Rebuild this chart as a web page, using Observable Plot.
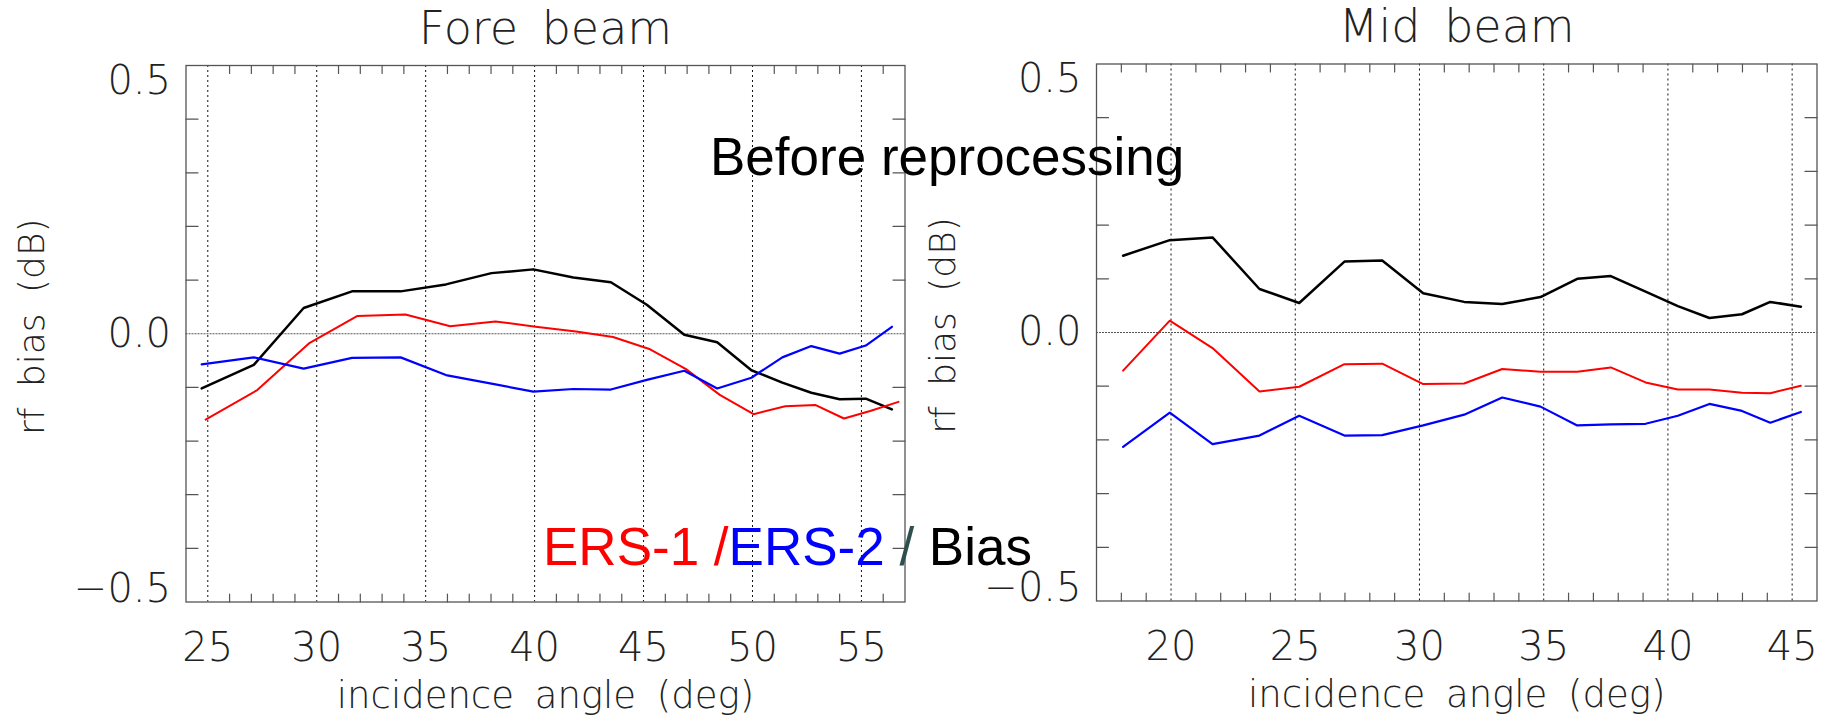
<!DOCTYPE html>
<html>
<head>
<meta charset="utf-8">
<script src="https://cdn.jsdelivr.net/npm/d3@7"></script>
<script src="https://cdn.jsdelivr.net/npm/@observablehq/plot@0.6"></script>
<style>
  html, body { margin: 0; padding: 0; background: #fff; }
  #chart { position: relative; width: 1829px; height: 721px; overflow: hidden; background: #fff; }
  #chart > svg { position: absolute; top: 0; }
</style>
</head>
<body>
<div id="chart"></div>
<script>
// ---- Fore beam: rf bias per incidence-angle node ----
const foreAngle     = [24.72, 27.11, 29.40, 31.62, 33.85, 35.93, 38.02, 39.94, 41.78, 43.50, 45.15, 46.87, 48.38, 49.95, 51.37, 52.70, 54.00, 55.20, 56.40];
const foreAngleErs1 = [24.90, 27.27, 29.64, 31.85, 34.07, 36.13, 38.20, 40.05, 41.90, 43.60, 45.30, 46.95, 48.50, 50.05, 51.50, 52.90, 54.20, 55.40, 56.70];
const foreErs1 = [-0.160, -0.105, -0.018, 0.033, 0.036, 0.014, 0.023, 0.013, 0.004, -0.006, -0.029, -0.066, -0.114, -0.150, -0.135, -0.133, -0.158, -0.144, -0.127];
const foreErs2 = [-0.057, -0.044, -0.065, -0.045, -0.044, -0.077, -0.093, -0.108, -0.103, -0.104, -0.086, -0.069, -0.102, -0.082, -0.044, -0.023, -0.037, -0.022, 0.013];
const foreBias = [-0.102, -0.058, 0.048, 0.079, 0.079, 0.092, 0.113, 0.120, 0.105, 0.096, 0.054, -0.002, -0.016, -0.068, -0.091, -0.110, -0.122, -0.121, -0.141];

// ---- Mid beam ----
const midAngle = [18.07, 19.95, 21.67, 23.56, 25.16, 26.98, 28.50, 30.15, 31.80, 33.33, 34.87, 36.35, 37.70, 39.10, 40.40, 41.67, 42.98, 44.12, 45.35];
const midErs1 = [-0.071, 0.022, -0.029, -0.110, -0.101, -0.059, -0.058, -0.096, -0.095, -0.068, -0.073, -0.073, -0.065, -0.093, -0.106, -0.106, -0.112, -0.113, -0.099];
const midErs2 = [-0.213, -0.149, -0.208, -0.192, -0.155, -0.192, -0.191, -0.173, -0.153, -0.121, -0.138, -0.173, -0.171, -0.170, -0.155, -0.133, -0.146, -0.168, -0.148];
const midBias = [0.143, 0.172, 0.177, 0.081, 0.055, 0.132, 0.134, 0.073, 0.057, 0.053, 0.066, 0.100, 0.105, 0.076, 0.049, 0.027, 0.034, 0.057, 0.048];

// ---- axes and labels ----
const foreTicks = [25, 30, 35, 40, 45, 50, 55];
const midTicks = [20, 25, 30, 35, 40, 45];
const yTicks = [0.5, 0, -0.5];
const yMinorTicks = [0.4, 0.3, 0.2, 0.1, -0.1, -0.2, -0.3, -0.4];
const panelTitles = ["Fore beam", "Mid beam"];
const xLabel = "incidence angle (deg)";
const yLabel = "rf bias (dB)";
const headline = "Before reprocessing";
const legendParts = ["ERS-1 /", "ERS-2", " / ", "Bias"];
const legendColors = ["#ff0000", "#0000ff", "#2f4f4f", "#000000"];

const thin = {fontFamily: "'DejaVu Sans', Lato, sans-serif", fontWeight: 200};
const frameColor = "#555";
const fmt = d3.format(".1f");

// a plain tick stroke for Plot.vector
const tickShape = {draw(context, l) { context.moveTo(0, 0); context.lineTo(0, -l); }};

function panel({title, xDomain, ticks, ers1, ers2, bias, width, margins}) {
  const minorX = d3.range(Math.floor(xDomain[0]) + 1, xDomain[1]).filter(d => d % 5 !== 0);
  const tick = {shape: tickShape, anchor: "start", stroke: frameColor, strokeWidth: 1.2};
  const label = {fontSize: 40, fill: "#222", ...thin};
  return Plot.plot({
    width,
    height: 721,
    ...margins,
    x: {domain: xDomain, axis: null},
    y: {domain: [-0.5, 0.5], axis: null},
    style: {background: "transparent", overflow: "visible", wordSpacing: "9px"},
    marks: [
      Plot.ruleX(ticks, {stroke: "#111", strokeWidth: 1, strokeDasharray: "2,3"}),
      Plot.ruleY([0], {stroke: "#555", strokeWidth: 1.2, strokeDasharray: "2,1"}),
      Plot.vector(minorX, {x: d => d, frameAnchor: "bottom", rotate: 0, length: 8, ...tick}),
      Plot.vector(minorX, {x: d => d, frameAnchor: "top", rotate: 180, length: 8, ...tick}),
      Plot.vector(yMinorTicks, {y: d => d, frameAnchor: "left", rotate: 90, length: 12, ...tick}),
      Plot.vector(yMinorTicks, {y: d => d, frameAnchor: "right", rotate: -90, length: 12, ...tick}),
      Plot.frame({stroke: frameColor, strokeWidth: 1.3}),
      Plot.line(bias, {x: "angle", y: "value", stroke: "#000", strokeWidth: 2.5}),
      Plot.line(ers1, {x: "angle", y: "value", stroke: "#ff0000", strokeWidth: 2}),
      Plot.line(ers2, {x: "angle", y: "value", stroke: "#0000ff", strokeWidth: 2.2}),
      // y tick labels: the top one hangs below the frame edge, the bottom one sits on it
      Plot.text([yTicks[0]], {y: d => d, text: fmt, frameAnchor: "left", textAnchor: "end", lineAnchor: "top", dx: -15, ...label}),
      Plot.text([yTicks[1]], {y: d => d, text: fmt, frameAnchor: "left", textAnchor: "end", lineAnchor: "middle", dx: -15, ...label}),
      Plot.text([yTicks[2]], {y: d => d, text: fmt, frameAnchor: "left", textAnchor: "end", lineAnchor: "bottom", dx: -15, ...label}),
      Plot.text(ticks, {x: d => d, text: d => String(d), frameAnchor: "bottom", lineAnchor: "bottom", dy: 59, ...label}),
      Plot.text([title], {frameAnchor: "top", textAnchor: "middle", lineAnchor: "bottom", dy: -22, ...label, fontSize: 46}),
      Plot.text([xLabel], {frameAnchor: "bottom", textAnchor: "middle", lineAnchor: "bottom", dy: 106, ...label, fontSize: 37}),
      Plot.text([yLabel], {frameAnchor: "left", textAnchor: "middle", rotate: -90, lineAnchor: "bottom", dx: -142, dy: -7, ...label, fontSize: 36})
    ]
  });
}

const table = (angles, values) => angles.map((angle, i) => ({angle, value: values[i]}));

const chart = document.getElementById("chart");

const fore = panel({
  title: panelTitles[0],
  xDomain: [24, 57],
  ticks: foreTicks,
  ers1: table(foreAngleErs1, foreErs1),
  ers2: table(foreAngle, foreErs2),
  bias: table(foreAngle, foreBias),
  width: 910,
  margins: {marginLeft: 185.5, marginRight: 5.5, marginTop: 65, marginBottom: 119.5}
});
fore.style.left = "0px";
chart.appendChild(fore);

const mid = panel({
  title: panelTitles[1],
  xDomain: [17, 46],
  ticks: midTicks,
  ers1: table(midAngle, midErs1),
  ers2: table(midAngle, midErs2),
  bias: table(midAngle, midBias),
  width: 919,
  margins: {marginLeft: 186, marginRight: 12.5, marginTop: 63.5, marginBottom: 120.5}
});
mid.style.left = "910px";
chart.appendChild(mid);

// headline and colour key laid over both panels
const overlay = d3.create("svg")
  .attr("width", 1829).attr("height", 721)
  .style("left", "0px").style("pointer-events", "none")
  .style("font-family", "'Liberation Sans', Arial, sans-serif")
  .style("font-size", "53px");
overlay.append("text").attr("x", 710).attr("y", 175).attr("fill", "#000").text(headline);
const key = overlay.append("text").attr("x", 543).attr("y", 565).style("white-space", "pre");
legendParts.forEach((part, i) => key.append("tspan").attr("fill", legendColors[i]).text(part));
chart.appendChild(overlay.node());
</script>
</body>
</html>
